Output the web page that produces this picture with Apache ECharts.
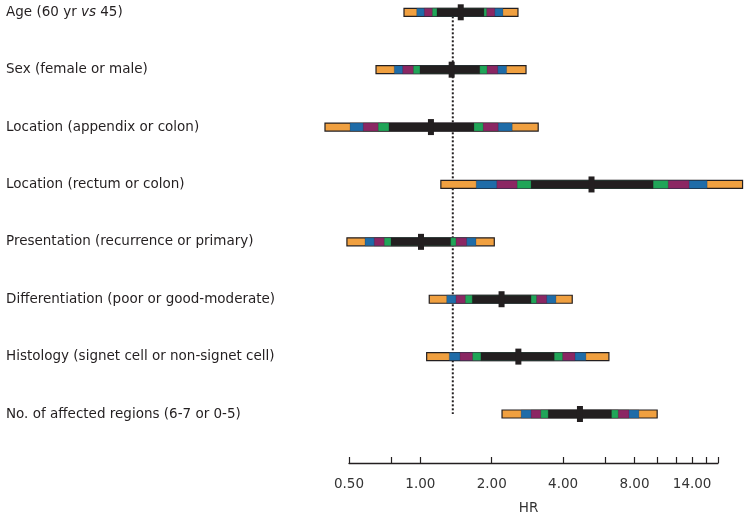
<!DOCTYPE html>
<html><head><meta charset="utf-8">
<script src="https://cdn.jsdelivr.net/npm/echarts@6/dist/echarts.min.js"></script>
<style>html,body{margin:0;padding:0;background:#fff}#c{width:750px;height:522px}</style>
</head><body><div id="c"></div>
<script>
const categories = [
  'Age (60 yr vs 45)',
  'Sex (female or male)',
  'Location (appendix or colon)',
  'Location (rectum or colon)',
  'Presentation (recurrence or primary)',
  'Differentiation (poor or good-moderate)',
  'Histology (signet cell or non-signet cell)',
  'No. of affected regions (6-7 or 0-5)'
];
const hr  = [1.48, 1.355, 1.108, 5.27, 1.006, 2.20, 2.59, 4.71];
// innermost (black) interval
const lo1 = [1.175, 0.996, 0.737, 2.93, 0.752, 1.655, 1.80, 3.46];
const hi1 = [1.854, 1.78, 1.683, 9.59, 1.342, 2.93, 3.67, 6.40];
// green
const lo2 = [1.123, 0.934, 0.664, 2.56, 0.704, 1.547, 1.66, 3.22];
const hi2 = [1.904, 1.91, 1.84, 11.1, 1.413, 3.09, 3.98, 6.83];
// purple
const lo3 = [1.039, 0.842, 0.574, 2.10, 0.639, 1.413, 1.469, 2.93];
const hi3 = [2.06, 2.12, 2.13, 13.6, 1.567, 3.41, 4.49, 7.58];
// blue
const lo4 = [0.965, 0.776, 0.505, 1.72, 0.584, 1.291, 1.324, 2.66];
const hi4 = [2.23, 2.31, 2.44, 16.2, 1.716, 3.73, 4.99, 8.35];
// orange (outermost)
const lo5 = [0.853, 0.65, 0.396, 1.22, 0.49, 1.09, 1.063, 2.21];
const hi5 = [2.58, 2.79, 3.14, 22.85, 2.05, 4.37, 6.24, 9.97];
const refLine = 1.37;
const tickValues = [0.5, 0.75, 1, 2, 4, 6, 8, 10, 12, 14, 16, 18];
const labelValues = [0.5, 1, 2, 4, 8, 14];

const FONT = 'DejaVu Sans';
const INK = '#231F20';
const levelColors = ['#F0A040', '#1F6CA8', '#8B2763', '#20A558', INK]; // outer -> inner

const barData = categories.map((c, i) => [hr[i], i, lo5[i], hi5[i], lo4[i], hi4[i], lo3[i], hi3[i], lo2[i], hi2[i], lo1[i], hi1[i]]);

const chart = echarts.init(document.getElementById('c'), null, {renderer: 'canvas'});
chart.setOption({
  animation: false,
  grid: {left: 349, width: 369, top: 12.3, height: 401.7, containLabel: false},
  xAxis: {
    type: 'log', logBase: 2, min: 0.5, max: 18, offset: 49,
    axisLine: {show: true, onZero: false, lineStyle: {color: INK, width: 1.3}},
    axisTick: {show: true, inside: true, length: 6, customValues: tickValues, lineStyle: {color: INK, width: 1.2}},
    axisLabel: {customValues: labelValues, formatter: v => Number(v).toFixed(2), margin: 14,
      fontSize: 13.5, fontFamily: FONT, color: '#333'},
    splitLine: {show: false},
    name: 'HR', nameLocation: 'middle', nameGap: 38,
    nameTextStyle: {fontSize: 13.5, fontFamily: FONT, color: '#333', padding: [0, 10, 0, 0]}
  },
  yAxis: {
    type: 'category', data: categories, inverse: true, boundaryGap: false,
    axisLine: {show: false}, axisTick: {show: false}, splitLine: {show: false},
    axisLabel: {
      align: 'left', margin: 343, fontSize: 13.5, fontFamily: FONT, color: INK,
      formatter: v => v.replace(' vs ', ' {i|vs} '),
      rich: {i: {fontStyle: 'italic', fontSize: 13.5, fontFamily: FONT, color: INK}}
    }
  },
  series: [
    {
      type: 'line', data: [[refLine, 0], [refLine, categories.length - 1]],
      symbol: 'none', z: 1, silent: true,
      lineStyle: {type: 'dotted', width: 2, color: INK}
    },
    {
      type: 'custom', z: 5, clip: false,
      encode: {x: [0, 2, 3, 4, 5, 6, 7, 8, 9, 10, 11], y: 1},
      data: barData,
      renderItem: function (params, api) {
        const row = api.value(1);
        const cy = api.coord([api.value(0), row])[1];
        const px = v => api.coord([v, row])[0];
        const h = 8;
        const children = [];
        for (let k = 0; k < 5; k++) {
          const a = px(api.value(2 + k * 2)), b = px(api.value(3 + k * 2));
          children.push({
            type: 'rect',
            shape: {x: a, y: cy - h / 2, width: b - a, height: h},
            style: k === 0 ? {fill: levelColors[k], stroke: INK, lineWidth: 1.2} : {fill: levelColors[k], stroke: 'rgba(35,31,32,0.35)', lineWidth: 0.6}
          });
        }
        const m = px(api.value(0));
        children.push({type: 'rect', shape: {x: m - 3, y: cy - 8, width: 6, height: 16}, style: {fill: INK}});
        return {type: 'group', children: children};
      }
    }
  ]
});
</script>
</body></html>
